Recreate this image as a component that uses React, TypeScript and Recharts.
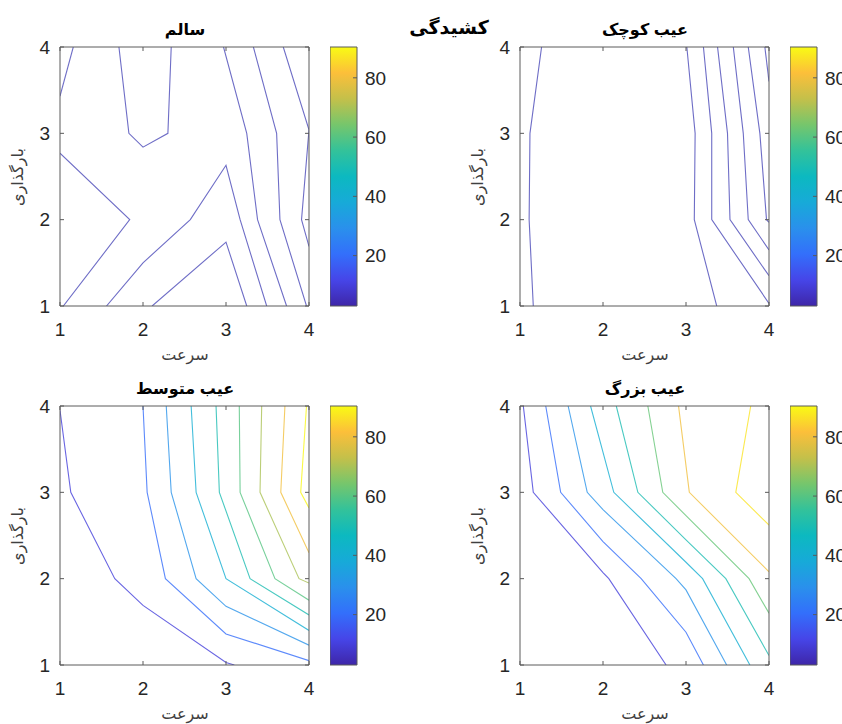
import React from 'react';
import { LineChart, Line, XAxis, YAxis, ComposedChart, ReferenceArea } from 'recharts';

type Pt = { x: number; y: number };
type Contour = { level: number; pts: Pt[] };

// ---------- tick labels / ranges ----------
const axisTicks = [1, 2, 3, 4];
const axisDomain: [number, number] = [1, 4];
const colorbarTicks = [20, 40, 60, 80];
const colorbarDomain: [number, number] = [3, 90.4];

// ---------- texts ----------
const mainTitle = 'کشیدگی';
const xLabel = 'سرعت';
const yLabel = 'بارگذاری';
const panelTitles = ['سالم', 'عیب کوچک', 'عیب متوسط', 'عیب بزرگ'];

const P = (arr: number[][]): Pt[] => arr.map(([x, y]) => ({ x, y }));

// ---------- سالم (healthy) contours ----------
const healthyContours: Contour[] = [
  { level: 9, pts: P([[1, 3.43], [1.16, 4]]) },
  { level: 9, pts: P([[1.71, 4], [1.83, 3], [2.0, 2.84], [2.3, 3], [2.34, 4]]) },
  { level: 9, pts: P([[1, 2.77], [1.84, 2], [1.04, 1]]) },
  { level: 9, pts: P([[1.56, 1], [2, 1.5], [2.57, 2], [3, 2.63], [3.17, 2], [3.49, 1]]) },
  { level: 9, pts: P([[2.11, 1], [3, 1.74], [3.25, 1]]) },
  { level: 9, pts: P([[2.97, 4], [3.25, 3], [3.38, 2], [3.73, 1]]) },
  { level: 9, pts: P([[3.33, 4], [3.61, 3], [3.65, 2], [3.97, 1]]) },
  { level: 9, pts: P([[3.69, 4], [4, 3.04], [3.91, 2], [4, 1.69]]) },
];

// ---------- عیب کوچک (small fault) contours ----------
const smallFaultContours: Contour[] = [
  { level: 9, pts: P([[1.26, 4], [1.12, 3], [1.11, 2], [1.16, 1]]) },
  { level: 9, pts: P([[3.01, 4], [3.11, 3], [3.1, 2], [3.37, 1]]) },
  { level: 9, pts: P([[3.21, 4], [3.31, 3], [3.31, 2], [4, 1.03]]) },
  { level: 9, pts: P([[3.38, 4], [3.5, 3], [3.53, 2], [4, 1.35]]) },
  { level: 9, pts: P([[3.57, 4], [3.69, 3], [3.75, 2], [4, 1.65]]) },
  { level: 9, pts: P([[3.75, 4], [3.89, 3], [3.97, 2], [4, 1.97]]) },
  { level: 9, pts: P([[3.95, 4], [4, 3.6]]) },
];

// ---------- عیب متوسط (medium fault) contours ----------
const mediumFaultContours: Contour[] = [
  { level: 10, pts: P([[1, 3.95], [1.13, 3], [1.66, 2], [2, 1.69], [3, 1.03], [3.1, 1]]) },
  { level: 20, pts: P([[2.0, 4], [2.05, 3], [2.27, 2], [3, 1.36], [4, 1.05]]) },
  { level: 30, pts: P([[2.28, 4], [2.34, 3], [2.64, 2], [3, 1.68], [4, 1.23]]) },
  { level: 40, pts: P([[2.58, 4], [2.64, 3], [3.0, 2.0], [4, 1.4]]) },
  { level: 50, pts: P([[2.88, 4], [2.92, 3], [3.29, 2], [4, 1.58]]) },
  { level: 60, pts: P([[3.16, 4], [3.17, 3], [3.59, 2], [4, 1.75]]) },
  { level: 70, pts: P([[3.43, 4], [3.41, 3], [3.88, 2], [4, 1.95]]) },
  { level: 80, pts: P([[3.71, 4], [3.66, 3], [4, 2.3]]) },
  { level: 90, pts: P([[3.97, 4], [3.9, 3], [4, 2.82]]) },
];

// ---------- عیب بزرگ (large fault) contours ----------
const largeFaultContours: Contour[] = [
  { level: 10, pts: P([[1.04, 4], [1.16, 3], [2.0, 2.07], [2.07, 2], [2.76, 1]]) },
  { level: 20, pts: P([[1.31, 4], [1.49, 3], [2.0, 2.43], [2.46, 2], [3.0, 1.38], [3.21, 1]]) },
  { level: 30, pts: P([[1.58, 4], [1.81, 3], [2.0, 2.8], [2.88, 2], [3.0, 1.87], [3.49, 1]]) },
  { level: 40, pts: P([[1.85, 4], [2.13, 3], [3.0, 2.19], [3.2, 2], [3.77, 1]]) },
  { level: 50, pts: P([[2.16, 4], [2.42, 3], [3.0, 2.45], [3.48, 2], [4, 1.11]]) },
  { level: 62, pts: P([[2.54, 4], [2.72, 3], [3.0, 2.73], [3.76, 2], [4, 1.6]]) },
  { level: 80, pts: P([[2.91, 4], [3.04, 3], [4, 2.08]]) },
  { level: 87, pts: P([[3.78, 4], [3.6, 3], [4, 2.62]]) },
];

// ---------- colormap (parula-like) ----------
const cmapStops: [number, string][] = [
  [0.0, '#3e26a8'],
  [0.1, '#4645e8'],
  [0.2, '#336ffb'],
  [0.3, '#2a90ec'],
  [0.4, '#17aad8'],
  [0.5, '#0cb9c0'],
  [0.6, '#33c29a'],
  [0.7, '#76c66c'],
  [0.8, '#c4c04a'],
  [0.9, '#fcbf3a'],
  [1.0, '#f9fb14'],
];

function hex(c: string) {
  return [1, 3, 5].map((i) => parseInt(c.slice(i, i + 2), 16));
}
function colorFor(level: number) {
  const t = Math.max(0, Math.min(1, (level - colorbarDomain[0]) / (colorbarDomain[1] - colorbarDomain[0])));
  for (let i = 0; i < cmapStops.length - 1; i++) {
    const [t0, c0] = cmapStops[i];
    const [t1, c1] = cmapStops[i + 1];
    if (t >= t0 && t <= t1) {
      const f = (t - t0) / (t1 - t0);
      const a = hex(c0), b = hex(c1);
      const m = a.map((v, k) => Math.round(v + (b[k] - v) * f));
      return `rgb(${m[0]},${m[1]},${m[2]})`;
    }
  }
  return cmapStops[cmapStops.length - 1][1];
}

const FONT = '"Liberation Sans", Arial, "DejaVu Sans", sans-serif';
const AXIS_COLOR = '#5a5a5a';
const TICK_COLOR = '#262626';

function TextAt({ x, y, children, size, bold, color, rotate }: any) {
  return (
    <div
      style={{
        position: 'absolute',
        left: x,
        top: y,
        transform: `translate(-50%, -50%)${rotate ? ` rotate(${rotate}deg)` : ''}`,
        whiteSpace: 'nowrap',
        fontFamily: FONT,
        fontSize: size,
        fontWeight: bold ? 'bold' : 'normal',
        color: color || '#000',
        direction: 'rtl',
        lineHeight: 1,
      }}
    >
      {children}
    </div>
  );
}

function Panel({ left, top, contours, title, id, muted }: { left: number; top: number; contours: Contour[]; title: string; id: string; muted?: boolean }) {
  const W = 330;
  const H = 340;
  const tickStyle = { fontSize: 19, fill: TICK_COLOR, fontFamily: FONT };
  return (
    <div style={{ position: 'absolute', left, top, width: W, height: H }}>
      <LineChart width={W} height={H} margin={{ top: 46, right: 20, bottom: 0, left: 0 }}>
        <XAxis
          xAxisId="b"
          type="number"
          dataKey="x"
          domain={axisDomain}
          ticks={axisTicks}
          interval={0}
          allowDataOverflow
          height={34}
          tickSize={-4}
          tickMargin={21}
          stroke={AXIS_COLOR}
          tick={tickStyle}
        />
        <XAxis
          xAxisId="t"
          orientation="top"
          type="number"
          dataKey="x"
          domain={axisDomain}
          ticks={axisTicks}
          interval={0}
          allowDataOverflow
          height={1}
          tickSize={-4}
          tickFormatter={() => ''}
          stroke={AXIS_COLOR}
        />
        <YAxis
          yAxisId="l"
          type="number"
          dataKey="y"
          domain={axisDomain}
          ticks={axisTicks}
          interval={0}
          allowDataOverflow
          width={60}
          tickSize={-4}
          tickMargin={14}
          stroke={AXIS_COLOR}
          tick={tickStyle}
        />
        <YAxis
          yAxisId="r"
          orientation="right"
          type="number"
          dataKey="y"
          domain={axisDomain}
          ticks={axisTicks}
          interval={0}
          allowDataOverflow
          width={1}
          tickSize={-4}
          tickFormatter={() => ''}
          stroke={AXIS_COLOR}
        />
        {contours.map((c, i) => (
          <Line
            key={`${id}-${i}`}
            xAxisId="b"
            yAxisId="l"
            data={c.pts}
            dataKey="y"
            type="linear"
            stroke={muted ? '#4a48b8' : colorFor(c.level)}
            strokeWidth={1.1}
            strokeOpacity={0.8}
            dot={false}
            activeDot={false}
            isAnimationActive={false}
          />
        ))}
      </LineChart>
      <TextAt x={185} y={30} size={16} bold>{title}</TextAt>
      <TextAt x={185} y={355} size={16} color="#404040">{xLabel}</TextAt>
      <TextAt x={18} y={177} size={16} color="#404040" rotate={-90}>{yLabel}</TextAt>
    </div>
  );
}

const colorbarData = [
  { x: 0, v: colorbarDomain[0] },
  { x: 1, v: colorbarDomain[1] },
];

function Colorbar({ left, top, id }: { left: number; top: number; id: string }) {
  const H = 263;
  return (
    <div style={{ position: 'absolute', left, top: top - 2, width: 87, height: H }}>
      <ComposedChart width={87} height={H} data={colorbarData} margin={{ top: 2, right: 0, bottom: 2, left: 0 }}>
        <defs>
          <linearGradient id={id} x1="0" y1="1" x2="0" y2="0">
            {cmapStops.map(([t, c]) => (
              <stop key={t} offset={`${t * 100}%`} stopColor={c} />
            ))}
          </linearGradient>
        </defs>
        <XAxis type="number" dataKey="x" domain={[0, 1]} hide />
        <YAxis
          orientation="right"
          type="number"
          domain={colorbarDomain}
          ticks={colorbarTicks}
          interval={0}
          allowDataOverflow
          width={60}
          tickSize={-4}
          tickMargin={12}
          axisLine={false}
          stroke={AXIS_COLOR}
          tick={{ fontSize: 19, fill: TICK_COLOR, fontFamily: FONT, textAnchor: 'start' }}
        />
        <ReferenceArea
          x1={0}
          x2={1}
          y1={colorbarDomain[0]}
          y2={colorbarDomain[1]}
          fill={`url(#${id})`}
          fillOpacity={1}
          stroke={AXIS_COLOR}
          strokeWidth={1}
          ifOverflow="visible"
        />
        <Line dataKey="v" stroke="none" dot={false} activeDot={false} isAnimationActive={false} />
      </ComposedChart>
    </div>
  );
}

export default function App() {
  return (
    <div
      style={{
        position: 'absolute',
        left: 0,
        top: 0,
        width: 842,
        height: 724,
        overflow: 'hidden',
        background: '#fff',
        fontFamily: FONT,
      }}
    >
      <Panel left={0} top={0} contours={healthyContours} title={panelTitles[0]} id="p1" muted />
      <Panel left={460} top={0} contours={smallFaultContours} title={panelTitles[1]} id="p2" muted />
      <Panel left={0} top={359} contours={mediumFaultContours} title={panelTitles[2]} id="p3" />
      <Panel left={460} top={359} contours={largeFaultContours} title={panelTitles[3]} id="p4" />
      <Colorbar left={330} top={47} id="cb1" />
      <Colorbar left={790} top={47} id="cb2" />
      <Colorbar left={330} top={406} id="cb3" />
      <Colorbar left={790} top={406} id="cb4" />
      <TextAt x={449} y={27} size={19} bold>{mainTitle}</TextAt>
    </div>
  );
}
